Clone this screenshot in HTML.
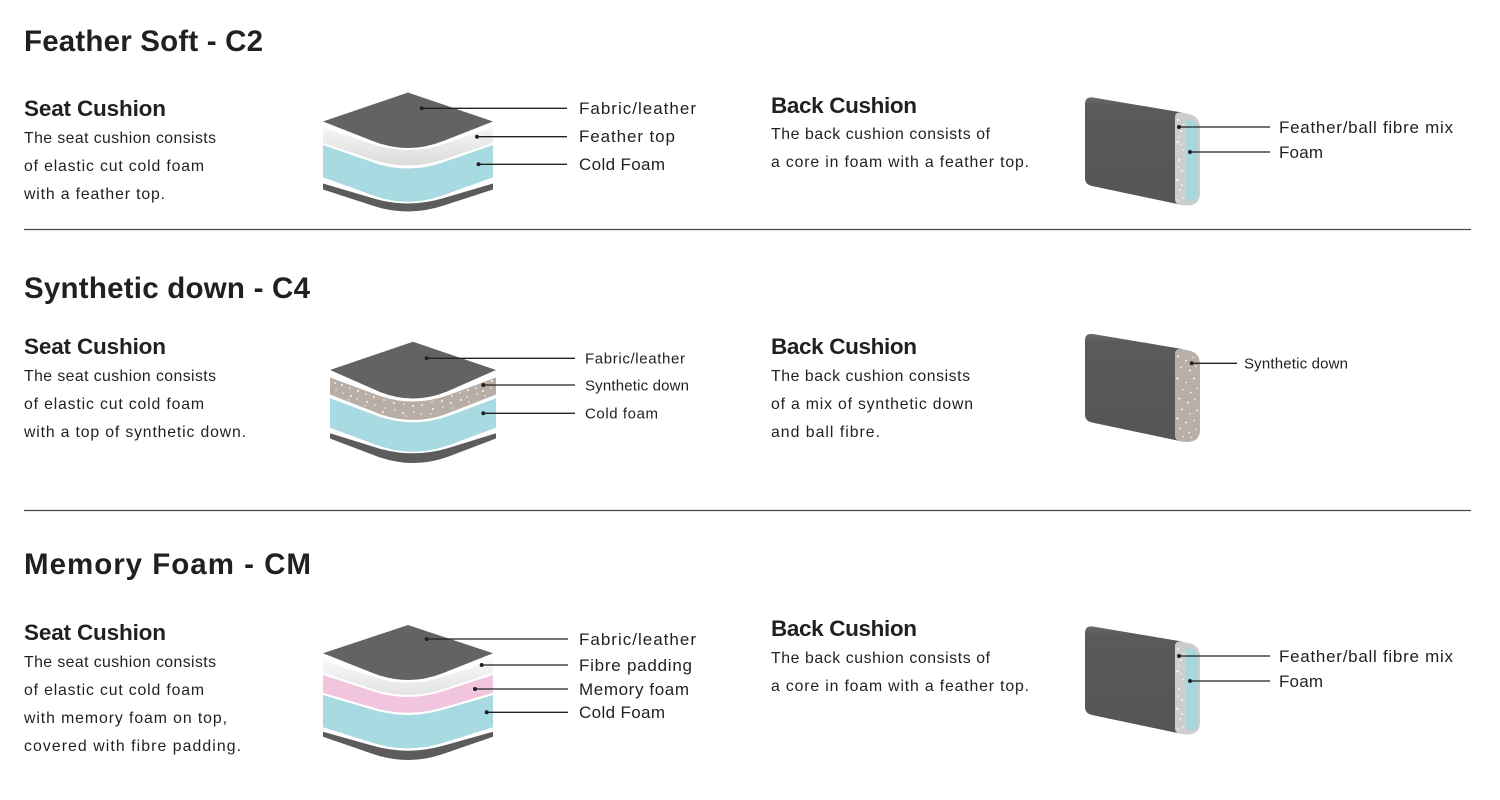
<!DOCTYPE html>
<html>
<head>
<meta charset="utf-8">
<style>
html,body{margin:0;padding:0;background:#fff;}
svg{display:block;}
text{font-family:"Liberation Sans",Arial,sans-serif;fill:#231f20;}
.t{font-size:29.5px;font-weight:bold;}
.h{font-size:22.5px;font-weight:bold;}
.b{font-size:15.8px;}
.l{font-size:17px;}
.s{font-size:15px;}
.ln{stroke:#222;stroke-width:1.3;fill:none;}
</style>
</head>
<body>
<svg width="1500" height="800" viewBox="0 0 1500 800" xmlns="http://www.w3.org/2000/svg">
<defs>
<linearGradient id="feat" x1="0" y1="0" x2="0" y2="1">
<stop offset="0" stop-color="#f5f5f3"/><stop offset="1" stop-color="#dcdcda"/>
</linearGradient>
<linearGradient id="fib" x1="0" y1="0" x2="0" y2="1">
<stop offset="0" stop-color="#f7f7f7"/><stop offset="1" stop-color="#e4e4e4"/>
</linearGradient>
<linearGradient id="body" x1="0" y1="0" x2="0" y2="1">
<stop offset="0" stop-color="#6a6a6a"/><stop offset="0.08" stop-color="#5a5a5a"/><stop offset="1" stop-color="#555"/>
</linearGradient>
</defs>

<!-- ============ SECTION 1 ============ -->
<text class="t" x="24" y="51" textLength="239" lengthAdjust="spacing">Feather Soft - C2</text>
<text class="h" x="24" y="116" textLength="142" lengthAdjust="spacing">Seat Cushion</text>
<text class="b" x="24" y="143" textLength="192" lengthAdjust="spacing">The seat cushion consists</text>
<text class="b" x="24" y="171" textLength="180" lengthAdjust="spacing">of elastic cut cold foam</text>
<text class="b" x="24" y="199" textLength="141" lengthAdjust="spacing">with a feather top.</text>

<!-- seat illustration 1 -->
<path fill="#5c5c5c" d="M323,183.5 L373,198.3 Q408,208.7 443,198.3 L493,183.5 L493,189.5 L443,205.8 Q408,217.2 373,205.8 L323,189.5 Z"/>
<path fill="#a8dae2" d="M323,145 L373,162.4 Q408,174.6 443,162.4 L493,145 L493,177.3 L443,195.4 Q408,208 373,195.4 L323,177.3 Z"/>
<path fill="url(#feat)" d="M323,127.5 L373,144.2 Q408,155.8 443,144.2 L493,127.5 L493,143 L443,159.7 Q408,171.3 373,159.7 L323,143 Z"/>
<path fill="#636363" d="M323,121.5 L408,92.5 L493,121.5 L443,141.1 Q408,154.9 373,141.1 Z"/>

<circle cx="421.7" cy="108.3" r="2" fill="#222"/>
<line class="ln" x1="421.7" y1="108.3" x2="567" y2="108.3"/>
<circle cx="477" cy="136.7" r="2" fill="#222"/>
<line class="ln" x1="477" y1="136.7" x2="567" y2="136.7"/>
<circle cx="478.5" cy="164.3" r="2" fill="#222"/>
<line class="ln" x1="478.5" y1="164.3" x2="567" y2="164.3"/>
<text class="l" x="579" y="114" textLength="117" lengthAdjust="spacing">Fabric/leather</text>
<text class="l" x="579" y="142" textLength="96" lengthAdjust="spacing">Feather top</text>
<text class="l" x="579" y="170" textLength="86" lengthAdjust="spacing">Cold Foam</text>

<text class="h" x="771" y="113" textLength="146" lengthAdjust="spacing">Back Cushion</text>
<text class="b" x="771" y="139" textLength="219" lengthAdjust="spacing">The back cushion consists of</text>
<text class="b" x="771" y="167" textLength="258" lengthAdjust="spacing">a core in foam with a feather top.</text>

<!-- back cushion 1 -->
<g id="bc1">
<path fill="url(#body)" d="M1085,104 Q1085,96.5 1093,97.5 L1182,112.5 L1182,205 L1092,186 Q1085,184.5 1085,178 Z"/>
<path fill="#cdcdcd" d="M1175,117 Q1175,112 1181,112.5 L1189,114 Q1200,116.5 1200,128 L1200,193 Q1200,205.5 1187,205.5 L1181,205 Q1175,204.5 1175,199 Z"/>
<g fill="#fff">
<circle cx="1178" cy="120" r="1"/><circle cx="1181" cy="131" r="0.9"/><circle cx="1177.5" cy="142" r="1.1"/>
<circle cx="1183" cy="150" r="0.8"/><circle cx="1179" cy="160" r="1"/><circle cx="1182" cy="171" r="0.9"/>
<circle cx="1177.5" cy="180" r="1.1"/><circle cx="1180" cy="190" r="0.9"/><circle cx="1183" cy="198" r="0.8"/>
<circle cx="1184" cy="125" r="0.8"/><circle cx="1179" cy="137" r="0.7"/><circle cx="1182" cy="185" r="0.9"/>
<circle cx="1178" cy="167" r="0.8"/><circle cx="1181" cy="145" r="0.7"/><circle cx="1178" cy="200" r="0.8"/>
</g>
<path fill="#a6d7df" d="M1186,119 Q1197,119.5 1198,128 L1198,193 Q1197,201 1188,201.5 Q1186,201 1186,197 Z"/>
</g>
<circle cx="1179" cy="127" r="2" fill="#222"/>
<line class="ln" x1="1179" y1="127" x2="1270" y2="127"/>
<circle cx="1190" cy="152" r="2" fill="#222"/>
<line class="ln" x1="1190" y1="152" x2="1270" y2="152"/>
<text class="l" x="1279" y="133" textLength="174" lengthAdjust="spacing">Feather/ball fibre mix</text>
<text class="l" x="1279" y="158" textLength="44" lengthAdjust="spacing">Foam</text>

<line x1="24" y1="229.5" x2="1471" y2="229.5" stroke="#4a4a4a" stroke-width="1.2"/>

<!-- ============ SECTION 2 ============ -->
<text class="t" x="24" y="298" textLength="286" lengthAdjust="spacing">Synthetic down - C4</text>
<text class="h" x="24" y="354" textLength="142" lengthAdjust="spacing">Seat Cushion</text>
<text class="b" x="24" y="381" textLength="192" lengthAdjust="spacing">The seat cushion consists</text>
<text class="b" x="24" y="409" textLength="180" lengthAdjust="spacing">of elastic cut cold foam</text>
<text class="b" x="24" y="437" textLength="222" lengthAdjust="spacing">with a top of synthetic down.</text>

<path fill="#5c5c5c" d="M330,433.3 L378,448.1 Q413,458.5 448,448.1 L496,433.3 L496,438.5 L448,456.7 Q413,469.3 378,456.7 L330,438.5 Z"/>
<path fill="#a8dae2" d="M330,398.3 L378,416.1 Q413,428.5 448,416.1 L496,398.3 L496,427.7 L448,445.5 Q413,457.9 378,445.5 L330,427.7 Z"/>
<path fill="#b8aea6" d="M330,377.5 L378,395.3 Q413,407.7 448,395.3 L496,377.5 L496,394.5 L448,413.4 Q413,426.6 378,413.4 L330,394.5 Z"/>
<g fill="#fff" opacity="0.9">
<circle cx="335" cy="383" r="0.9"/><circle cx="336" cy="390" r="0.7"/><circle cx="342" cy="385" r="1"/><circle cx="343" cy="393" r="0.8"/>
<circle cx="350" cy="388" r="0.8"/><circle cx="351" cy="396" r="1"/><circle cx="349" cy="400" r="0.7"/>
<circle cx="358" cy="391" r="1"/><circle cx="357" cy="399" r="0.8"/><circle cx="366" cy="394" r="0.8"/><circle cx="367" cy="402" r="1"/>
<circle cx="365" cy="406" r="0.7"/><circle cx="374" cy="397" r="1"/><circle cx="375" cy="405" r="0.8"/>
<circle cx="384" cy="400" r="0.9"/><circle cx="385" cy="408" r="0.8"/><circle cx="383" cy="412" r="1"/>
<circle cx="394" cy="403" r="1"/><circle cx="395" cy="410" r="0.8"/><circle cx="404" cy="404" r="0.8"/><circle cx="403" cy="413" r="1"/>
<circle cx="406" cy="416" r="0.7"/><circle cx="413" cy="406" r="1"/><circle cx="414" cy="412" r="0.8"/>
<circle cx="422" cy="405" r="0.9"/><circle cx="421" cy="414" r="0.8"/><circle cx="432" cy="402" r="0.8"/><circle cx="433" cy="409" r="1"/>
<circle cx="431" cy="414" r="0.7"/><circle cx="442" cy="401" r="1"/><circle cx="443" cy="407" r="0.8"/>
<circle cx="452" cy="396" r="0.9"/><circle cx="451" cy="403" r="1"/><circle cx="453" cy="408" r="0.7"/>
<circle cx="460" cy="393" r="0.8"/><circle cx="461" cy="400" r="1"/><circle cx="468" cy="390" r="1"/><circle cx="467" cy="397" r="0.8"/>
<circle cx="469" cy="402" r="0.7"/><circle cx="476" cy="388" r="0.9"/><circle cx="477" cy="394" r="0.8"/>
<circle cx="484" cy="385" r="0.8"/><circle cx="483" cy="391" r="1"/><circle cx="485" cy="396" r="0.7"/>
<circle cx="492" cy="381" r="1"/><circle cx="491" cy="388" r="0.8"/>
</g>
<path fill="#636363" d="M330,370 L413,341.7 L496,370 L448,391.1 Q413,405.9 378,391.1 Z"/>

<circle cx="426.7" cy="358.3" r="2" fill="#222"/>
<line class="ln" x1="426.7" y1="358.3" x2="575" y2="358.3"/>
<circle cx="483.3" cy="385" r="2" fill="#222"/>
<line class="ln" x1="483.3" y1="385" x2="575" y2="385"/>
<circle cx="483.3" cy="413.3" r="2" fill="#222"/>
<line class="ln" x1="483.3" y1="413.3" x2="575" y2="413.3"/>
<text class="s" x="585" y="363.6" textLength="100" lengthAdjust="spacing">Fabric/leather</text>
<text class="s" x="585" y="390.3" textLength="104" lengthAdjust="spacing">Synthetic down</text>
<text class="s" x="585" y="418.6" textLength="73" lengthAdjust="spacing">Cold foam</text>

<text class="h" x="771" y="354" textLength="146" lengthAdjust="spacing">Back Cushion</text>
<text class="b" x="771" y="381" textLength="199" lengthAdjust="spacing">The back cushion consists</text>
<text class="b" x="771" y="409" textLength="202" lengthAdjust="spacing">of a mix of synthetic down</text>
<text class="b" x="771" y="437" textLength="109" lengthAdjust="spacing">and ball fibre.</text>

<g transform="translate(0,236.5)">
<path fill="url(#body)" d="M1085,104 Q1085,96.5 1093,97.5 L1182,112.5 L1182,205 L1092,186 Q1085,184.5 1085,178 Z"/>
<path fill="#b9afa7" d="M1175,117 Q1175,112 1181,112.5 L1189,114 Q1200,116.5 1200,128 L1200,193 Q1200,205.5 1187,205.5 L1181,205 Q1175,204.5 1175,199 Z"/>
<g fill="#fff" opacity="0.9">
<circle cx="1178" cy="120" r="1"/><circle cx="1186" cy="124" r="0.9"/><circle cx="1193" cy="121" r="0.8"/>
<circle cx="1181" cy="131" r="0.9"/><circle cx="1190" cy="134" r="1"/><circle cx="1196" cy="130" r="0.7"/>
<circle cx="1177.5" cy="142" r="1.1"/><circle cx="1186" cy="146" r="0.8"/><circle cx="1194" cy="142" r="1"/>
<circle cx="1183" cy="153" r="0.8"/><circle cx="1191" cy="156" r="0.9"/><circle cx="1197" cy="152" r="0.7"/>
<circle cx="1179" cy="162" r="1"/><circle cx="1188" cy="166" r="1"/><circle cx="1195" cy="163" r="0.8"/>
<circle cx="1182" cy="173" r="0.9"/><circle cx="1190" cy="177" r="0.8"/><circle cx="1197" cy="174" r="0.9"/>
<circle cx="1177.5" cy="182" r="1.1"/><circle cx="1186" cy="186" r="0.9"/><circle cx="1194" cy="184" r="0.8"/>
<circle cx="1180" cy="192" r="0.9"/><circle cx="1189" cy="196" r="1"/><circle cx="1196" cy="193" r="0.7"/>
<circle cx="1183" cy="200" r="0.8"/><circle cx="1191" cy="201" r="0.8"/>
</g>
</g>
<circle cx="1191.7" cy="363.3" r="2" fill="#222"/>
<line class="ln" x1="1191.7" y1="363.3" x2="1237" y2="363.3"/>
<text class="s" x="1244" y="368.6" textLength="104" lengthAdjust="spacing">Synthetic down</text>

<line x1="24" y1="510.5" x2="1471" y2="510.5" stroke="#4a4a4a" stroke-width="1.2"/>

<!-- ============ SECTION 3 ============ -->
<text class="t" x="24" y="574" textLength="287" lengthAdjust="spacing">Memory Foam - CM</text>
<text class="h" x="24" y="640" textLength="142" lengthAdjust="spacing">Seat Cushion</text>
<text class="b" x="24" y="667" textLength="192" lengthAdjust="spacing">The seat cushion consists</text>
<text class="b" x="24" y="695" textLength="180" lengthAdjust="spacing">of elastic cut cold foam</text>
<text class="b" x="24" y="723" textLength="203" lengthAdjust="spacing">with memory foam on top,</text>
<text class="b" x="24" y="751" textLength="217" lengthAdjust="spacing">covered with fibre padding.</text>

<path fill="#5c5c5c" d="M323,731.7 L373,745.8 Q408,755.6 443,745.8 L493,731.7 L493,736.7 L443,754 Q408,766 373,754 L323,736.7 Z"/>
<path fill="#a8dae2" d="M323,695 L373,709.8 Q408,720.2 443,709.8 L493,695 L493,727.3 L443,742.9 Q408,753.7 373,742.9 L323,727.3 Z"/>
<path fill="#f0c5dd" d="M323,675 L373,691.3 Q408,702.7 443,691.3 L493,675 L493,692.7 L443,707.5 Q408,717.9 373,707.5 L323,692.7 Z"/>
<path fill="url(#fib)" d="M323,660.5 L373,676.8 Q408,688.2 443,676.8 L493,660.5 L493,672.7 L443,689.2 Q408,700.8 373,689.2 L323,672.7 Z"/>
<path fill="#636363" d="M323,653.3 L408,625 L493,653.3 L443,673.1 Q408,686.9 373,673.1 Z"/>

<circle cx="426.7" cy="639" r="2" fill="#222"/>
<line class="ln" x1="426.7" y1="639" x2="568" y2="639"/>
<circle cx="481.7" cy="665" r="2" fill="#222"/>
<line class="ln" x1="481.7" y1="665" x2="568" y2="665"/>
<circle cx="475" cy="689" r="2" fill="#222"/>
<line class="ln" x1="475" y1="689" x2="568" y2="689"/>
<circle cx="486.7" cy="712.3" r="2" fill="#222"/>
<line class="ln" x1="486.7" y1="712.3" x2="568" y2="712.3"/>
<text class="l" x="579" y="645" textLength="117" lengthAdjust="spacing">Fabric/leather</text>
<text class="l" x="579" y="671" textLength="113" lengthAdjust="spacing">Fibre padding</text>
<text class="l" x="579" y="695" textLength="110" lengthAdjust="spacing">Memory foam</text>
<text class="l" x="579" y="718" textLength="86" lengthAdjust="spacing">Cold Foam</text>

<text class="h" x="771" y="636" textLength="146" lengthAdjust="spacing">Back Cushion</text>
<text class="b" x="771" y="663" textLength="219" lengthAdjust="spacing">The back cushion consists of</text>
<text class="b" x="771" y="691" textLength="258" lengthAdjust="spacing">a core in foam with a feather top.</text>

<use href="#bc1" transform="translate(0,529)"/>
<circle cx="1179" cy="656" r="2" fill="#222"/>
<line class="ln" x1="1179" y1="656" x2="1270" y2="656"/>
<circle cx="1190" cy="681" r="2" fill="#222"/>
<line class="ln" x1="1190" y1="681" x2="1270" y2="681"/>
<text class="l" x="1279" y="662" textLength="174" lengthAdjust="spacing">Feather/ball fibre mix</text>
<text class="l" x="1279" y="687" textLength="44" lengthAdjust="spacing">Foam</text>
</svg>
</body>
</html>
